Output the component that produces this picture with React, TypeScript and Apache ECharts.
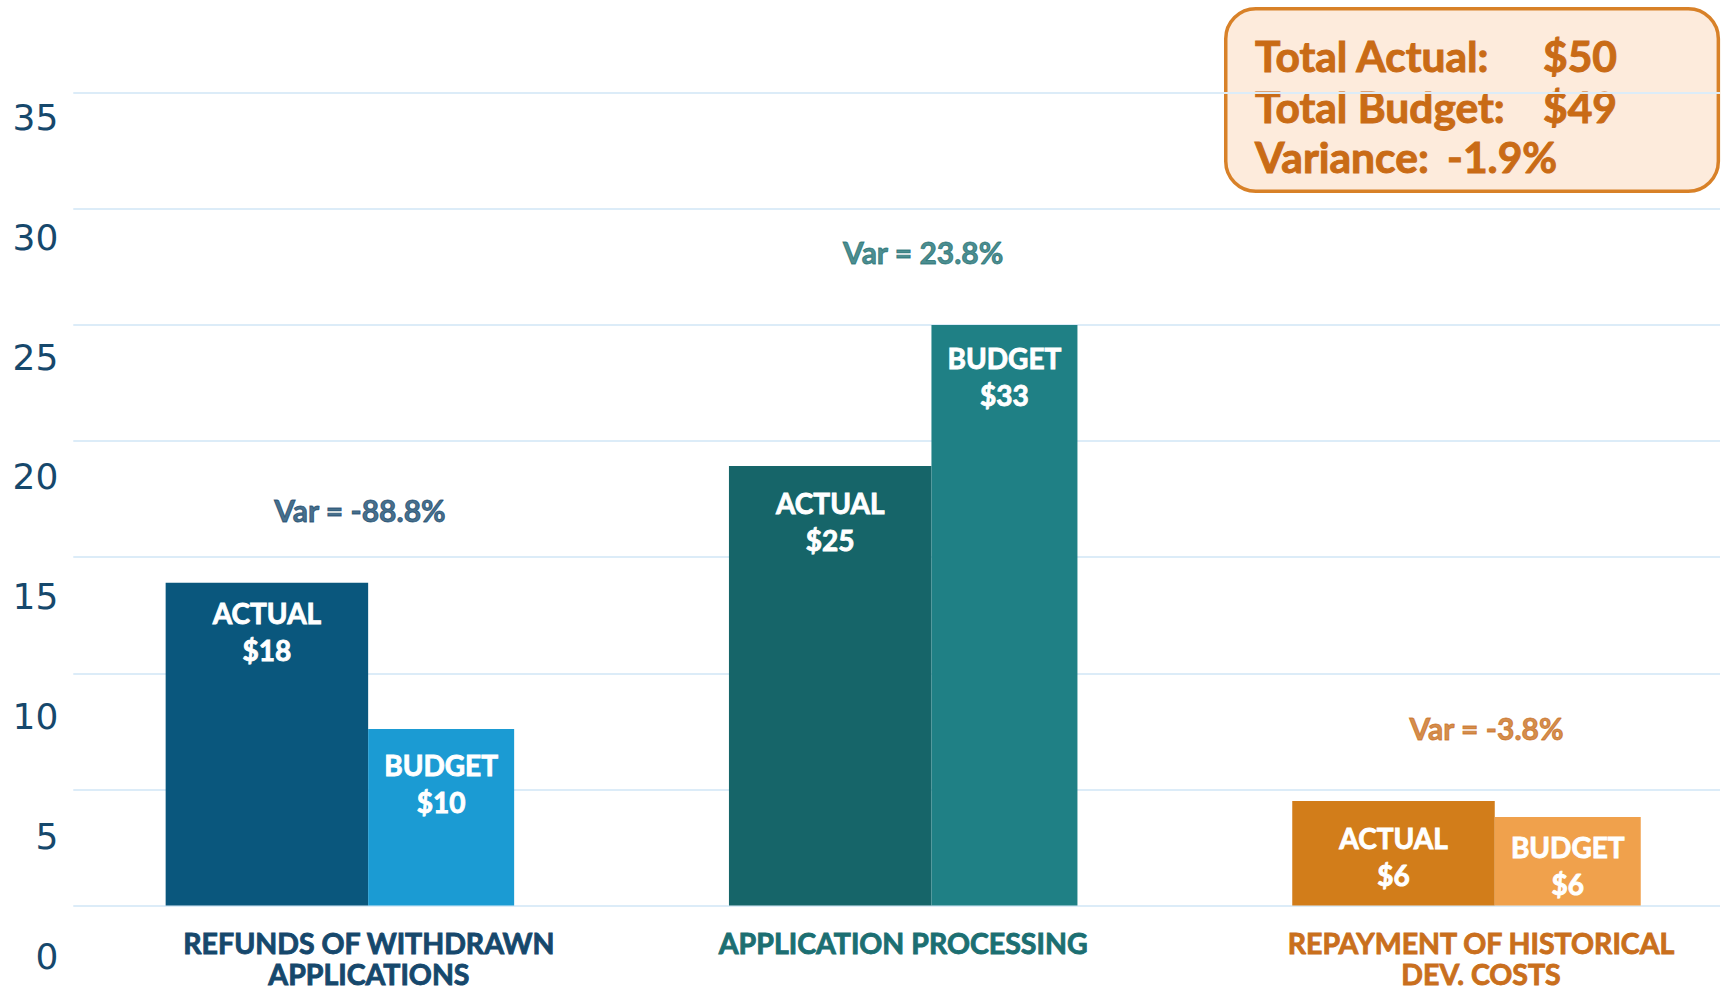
import React, { useEffect, useRef } from "react";
import * as echarts from "echarts";

// ---- data ----
const categories = [
  "REFUNDS OF WITHDRAWN\nAPPLICATIONS",
  "APPLICATION PROCESSING",
  "REPAYMENT OF HISTORICAL\nDEV. COSTS",
];
const actualValues = [13.9, 18.93, 4.5];
const budgetValues = [7.6, 25.0, 3.81];
const actualLabels = ["$18", "$25", "$6"];
const budgetLabels = ["$10", "$33", "$6"];
const varianceLabels = ["Var = -88.8%", "Var = 23.8%", "Var = -3.8%"];
const yMin = 0;
const yMax = 35;
const yInterval = 5;
const summaryLabels = ["Total Actual:", "Total Budget:", "Variance:"];
const summaryValues = ["$50", "$49", "-1.9%"];

// ---- styles ----
const actualColors = ["#0a577d", "#166569", "#d27d1a"];
const budgetColors = ["#1b9bd3", "#1f8085", "#f0a14c"];
const categoryColors = ["#16486c", "#1c6f72", "#c96f1d"];
const labelShift = [58, 0, 29];
const actualLabelDistance = [12, 19, 19];
const budgetLabelDistance = [17, 15, 11];
const FONT = "Lato, 'Open Sans', sans-serif";
const WEIGHT = "bold";
const BOX_TEXT = "#c96b16";

export default function App() {
  const ref = useRef<HTMLDivElement>(null);

  useEffect(() => {
    document.body.style.margin = "0";
    const chart = echarts.init(ref.current!, null, { renderer: "svg" });

    const rich: any = {};
    categories.forEach((_, i) => {
      rich["c" + i] = {
        color: categoryColors[i],
        fontFamily: FONT,
        fontWeight: WEIGHT,
        fontSize: 28.5,
        lineHeight: 31,
        textBorderColor: categoryColors[i],
        textBorderWidth: 0.9,
        padding: [0, 0, 0, labelShift[i]],
      };
    });

    const insideLabel = (kind: string, labels: string[]) => ({
      show: true,
      position: "insideTop",
      distance: 15,
      color: "#ffffff",
      fontFamily: FONT,
      fontWeight: WEIGHT,
      fontSize: 28,
      lineHeight: 37,
      textBorderColor: "#ffffff",
      textBorderWidth: 0.9,
      formatter: (p: any) => kind + "\n" + labels[p.dataIndex],
    });

    const option: any = {
      animation: false,
      backgroundColor: "#ffffff",
      grid: [
        { left: 339.9, right: 258.5, top: 92.7, bottom: 83.5, containLabel: false },
        { left: 73.3, right: 5, top: 92.7, bottom: 83.5, containLabel: false },
        { left: 73.3, right: 5, top: 117.4, bottom: 33, containLabel: false },
      ],
      xAxis: [
        {
          gridIndex: 0,
          type: "category",
          boundaryGap: false,
          data: categories,
          axisLine: { show: false },
          axisTick: { show: false },
          splitLine: { show: false },
          axisLabel: {
            interval: 0,
            margin: 21.5,
            formatter: (value: string, index: number) =>
              value
                .split("\n")
                .map((l) => `{c${index}|${l}}`)
                .join("\n"),
            rich,
          },
        },
        { gridIndex: 1, type: "value", min: 0, max: 1, show: false },
        { gridIndex: 2, type: "value", min: 0, max: 1, show: false },
      ],
      yAxis: [
        { gridIndex: 0, type: "value", min: yMin, max: yMax, interval: yInterval, show: false },
        {
          gridIndex: 1,
          type: "value",
          min: yMin,
          max: yMax,
          interval: yInterval,
          axisLine: { show: false },
          axisTick: { show: false },
          axisLabel: { show: false },
          splitLine: { show: true, lineStyle: { color: "#dcecf8", width: 2 } },
        },
        {
          gridIndex: 2,
          type: "value",
          min: yMin,
          max: yMax,
          interval: yInterval,
          axisLine: { show: false },
          axisTick: { show: false },
          splitLine: { show: false },
          axisLabel: {
            show: true,
            margin: 15,
            color: "#16486c",
            fontFamily: "'DejaVu Sans', sans-serif",
            fontSize: 36,
          },
        },
      ],
      series: [
        {
          type: "bar",
          name: "Actual",
          xAxisIndex: 0,
          yAxisIndex: 0,
          clip: false,
          barWidth: 202.5,
          barGap: "0%",
          data: actualValues.map((v, i) => ({
            value: v,
            itemStyle: { color: actualColors[i] },
            label: { distance: actualLabelDistance[i] },
          })),
          label: insideLabel("ACTUAL", actualLabels),
        },
        {
          type: "bar",
          name: "Budget",
          xAxisIndex: 0,
          yAxisIndex: 0,
          clip: false,
          barWidth: 146,
          barGap: "0%",
          data: budgetValues.map((v, i) => ({
            value: v,
            itemStyle: { color: budgetColors[i] },
            label: { distance: budgetLabelDistance[i] },
          })),
          label: insideLabel("BUDGET", budgetLabels),
        },
        {
          type: "scatter",
          name: "Variance",
          xAxisIndex: 0,
          yAxisIndex: 0,
          clip: false,
          symbolSize: 1,
          z: 5,
          itemStyle: { color: "transparent" },
          data: actualValues.map((v, i) => ({
            value: Math.max(v, budgetValues[i]),
            label: { color: categoryColors[i], textBorderColor: categoryColors[i] },
          })),
          label: {
            show: true,
            position: "inside",
            offset: [20, -73],
            fontFamily: FONT,
            fontWeight: WEIGHT,
            fontSize: 30,
            textBorderWidth: 0.9,
            formatter: (p: any) => varianceLabels[p.dataIndex],
          },
        },
      ],
      graphic: [
        {
          type: "group",
          left: 1224,
          top: 7,
          children: [
            {
              type: "rect",
              shape: { x: 1.7, y: 1.7, width: 492.6, height: 182.6, r: 30 },
              style: { fill: "#fdebdc", stroke: "#d88128", lineWidth: 3.5 },
            },
            ...summaryLabels.map((t, i) => ({
              type: "text",
              x: 31,
              y: 48.5 + i * 50.5,
              style: {
                text: t,
                fill: BOX_TEXT,
                stroke: BOX_TEXT,
                lineWidth: 1,
                font: `${WEIGHT} 42.5px ${FONT}`,
                verticalAlign: "middle",
              },
            })),
            ...summaryValues.map((t, i) => ({
              type: "text",
              x: i < 2 ? 319 : 223,
              y: 48.5 + i * 50.5,
              style: {
                text: t,
                fill: BOX_TEXT,
                stroke: BOX_TEXT,
                lineWidth: 1,
                font: `${WEIGHT} 42.5px ${FONT}`,
                verticalAlign: "middle",
              },
            })),
          ],
        },
      ],
    };

    chart.setOption(option);
    return () => chart.dispose();
  }, []);

  return (
    <div
      ref={ref}
      style={{ position: "absolute", left: 0, top: 0, width: 1725, height: 989 }}
    />
  );
}
